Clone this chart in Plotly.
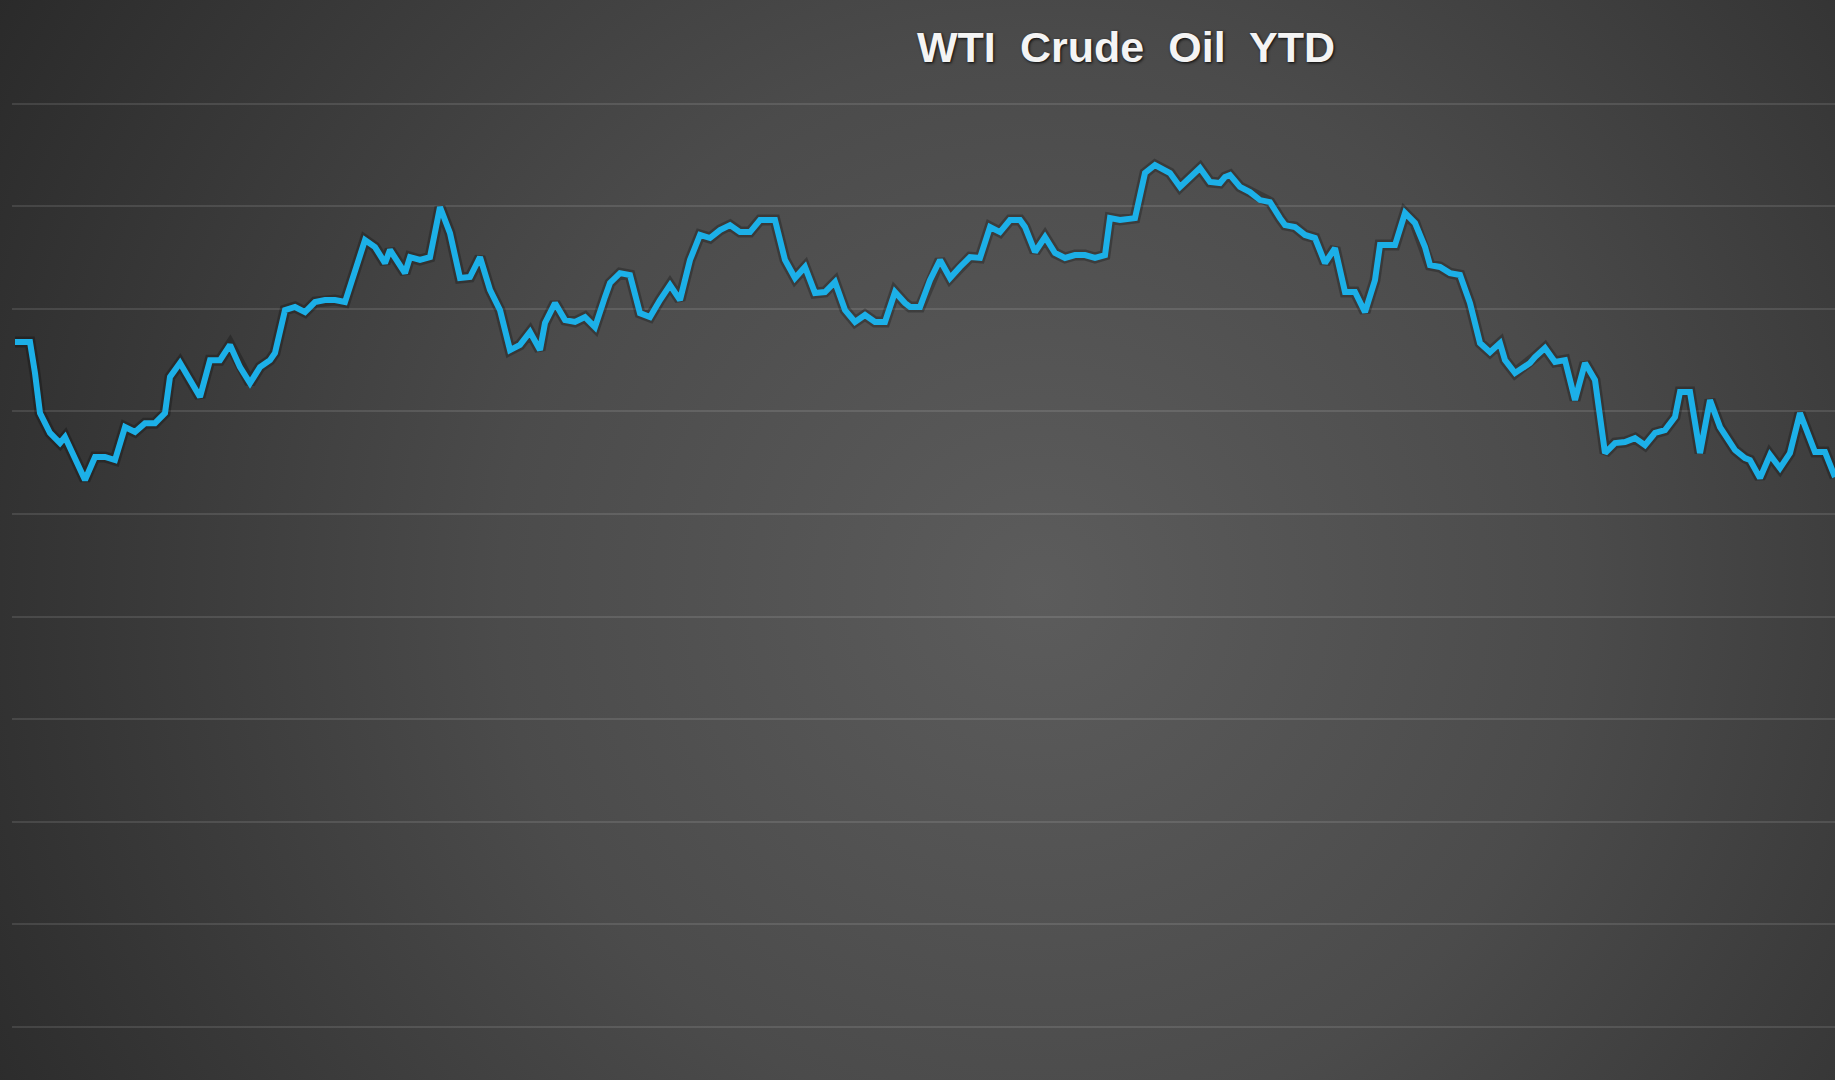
import base64
import plotly.graph_objects as go

# Day of year (calendar-day offset from the first observation)
day = [
    0, 3, 4, 5, 7, 9, 10, 12, 14, 16, 18, 20, 22, 24, 26, 28, 30, 31, 33, 35, 37, 39, 41, 43, 45, 47, 49, 51, 52, 54, 56,
    58, 60, 62, 64, 66, 68, 70, 72, 74, 75, 78, 79, 81, 83, 85, 87, 89, 91, 93, 95, 97, 99, 101, 103, 105, 106, 108, 110, 112, 114, 116, 118,
    119, 121, 123, 125, 127, 129, 131, 133, 135, 137, 139, 141, 143, 145, 147, 149, 151, 152, 154, 156, 158, 160, 162, 164, 166, 168, 170, 172, 174, 176, 178, 179,
    181, 183, 185, 187, 189, 191, 193, 195, 197, 199, 201, 202, 204, 206, 208, 210, 212, 214, 216, 218, 219, 221, 224, 226, 228, 231, 233, 235, 237, 239, 241,
    242, 243, 245, 247, 249, 251, 253, 254, 256, 258, 260, 262, 264, 266, 268, 270, 272, 273, 276, 278, 280, 282, 283, 285, 287, 289, 291, 293, 295, 297, 298, 300,
    303, 304, 306, 308, 310, 312, 314, 316, 318, 320, 322, 324, 326, 328, 330, 332, 333, 335, 337, 339, 341, 344, 346, 347, 349, 351, 353, 355, 357, 358, 360, 362, 364,
]

# WTI price (USD / bbl)
price = [
    63.38, 63.38, 61.87, 59.92, 58.95, 58.46, 58.75, 57.63, 56.66, 57.78, 57.78, 57.63, 59.24, 59.00, 59.43, 59.43, 59.92, 61.68, 62.36, 61.53, 60.70, 62.50, 62.50, 63.24, 62.16, 61.38, 62.16, 62.50, 62.85, 64.94, 65.09,
    64.84, 65.33, 65.43, 65.43, 65.33, 66.89, 68.35, 68.01, 67.23, 67.87, 66.74, 67.52, 67.38, 67.52, 69.96, 68.69, 66.50, 66.55, 67.52, 65.92, 64.94, 62.99, 63.24, 63.87, 62.99, 64.31, 65.28, 64.45, 64.36, 64.60, 64.11, 65.58,
    66.26, 66.74, 66.65, 64.79, 64.60, 65.43, 66.16, 65.43, 67.38, 68.60, 68.45, 68.84, 69.08, 68.74, 68.74, 69.33, 69.33, 69.33, 67.38, 66.50, 67.04, 65.77, 65.82, 66.31, 64.94, 64.36, 64.70, 64.36, 64.36, 65.82, 65.28, 65.09,
    65.09, 66.40, 67.38, 66.50, 67.04, 67.52, 67.48, 68.99, 68.74, 69.33, 69.33, 68.99, 67.77, 68.50, 67.72, 67.48, 67.62, 67.62, 67.48, 67.62, 69.42, 69.33, 69.42, 71.62, 72.01, 71.62, 70.94, 71.42, 71.86, 71.18, 71.13,
    71.42, 71.52, 70.94, 70.69, 70.30, 70.20, 69.42, 69.08, 68.99, 68.60, 68.45, 67.23, 67.96, 65.82, 65.82, 64.84, 66.40, 68.11, 68.11, 69.67, 69.18, 68.01, 67.13, 67.04, 66.74, 66.65, 65.28, 63.33, 62.89, 63.33, 62.50, 61.87,
    62.36, 62.65, 63.09, 62.41, 62.50, 60.56, 62.36, 61.53, 57.97, 58.46, 58.51, 58.70, 58.36, 58.95, 59.09, 59.73, 60.95, 60.95, 57.97, 60.56, 59.24, 58.12, 57.73, 57.63, 56.75, 57.88, 57.24, 57.97, 59.92, 59.24, 58.02, 58.02, 56.80,
]

grid_values = [30, 35, 40, 45, 50, 55, 60, 65, 70, 75]
title_text = "WTI\u2009\u200a Crude\u2009\u200a Oil\u2009\u200a YTD"

W, H = 1835, 1080
svg = f"""<svg xmlns='http://www.w3.org/2000/svg' width='{W}' height='{H}' viewBox='0 0 {W} {H}' preserveAspectRatio='none'>
<defs><radialGradient id='g' gradientUnits='userSpaceOnUse' cx='1040' cy='590' r='1200'>
<stop offset='0' stop-color='#5c5c5c'/><stop offset='0.45' stop-color='#4b4b4b'/><stop offset='1' stop-color='#2a2a2a'/>
</radialGradient></defs><rect x='0' y='0' width='{W}' height='{H}' fill='url(#g)'/></svg>"""
bg_uri = "data:image/svg+xml;base64," + base64.b64encode(svg.encode()).decode()

ML = 12
fig = go.Figure()
fig.add_trace(go.Scatter(x=day, y=price, mode="lines",
                         line=dict(color="rgba(0,0,0,0.25)", width=11),
                         hoverinfo="skip", showlegend=False))
fig.add_trace(go.Scatter(x=day, y=price, mode="lines",
                         line=dict(color="#1cb0e8", width=6),
                         showlegend=False, name="WTI"))

fig.update_layout(
    width=W, height=H,
    margin=dict(l=ML, r=0, t=0, b=0),
    paper_bgcolor="rgba(0,0,0,0)",
    plot_bgcolor="rgba(0,0,0,0)",
    title=dict(text=title_text, x=917 / W, xref="container", xanchor="left",
               y=1 - 47 / H, yref="container", yanchor="middle",
               font=dict(family="Liberation Sans, Arial, sans-serif", size=43,
                         color="#f4f4f4", weight="bold",
                         shadow="1px 1px 3px rgba(0,0,0,0.9)")),
    xaxis=dict(range=[-0.6, 364], showgrid=False, zeroline=False,
               showticklabels=False, ticks="", showline=False, fixedrange=True),
    yaxis=dict(range=[27.42, 80.05], tickvals=grid_values, showgrid=True,
               gridcolor="rgba(255,255,255,0.11)", gridwidth=2,
               zeroline=False, showticklabels=False, ticks="", showline=False,
               fixedrange=True),
    images=[dict(source=bg_uri, xref="paper", yref="paper",
                 x=-ML / (W - ML), y=1, sizex=W / (W - ML), sizey=1,
                 xanchor="left", yanchor="top", sizing="stretch", layer="below")],
)

fig.write_html("out.html", config={"displayModeBar": False})

# remove the browser's default page margin so the figure fills the window
with open("out.html", encoding="utf-8") as f:
    html = f.read()
html = html.replace("<body>", '<body style="margin:0;overflow:hidden;background:#2a2a2a">', 1)
with open("out.html", "w", encoding="utf-8") as f:
    f.write(html)
